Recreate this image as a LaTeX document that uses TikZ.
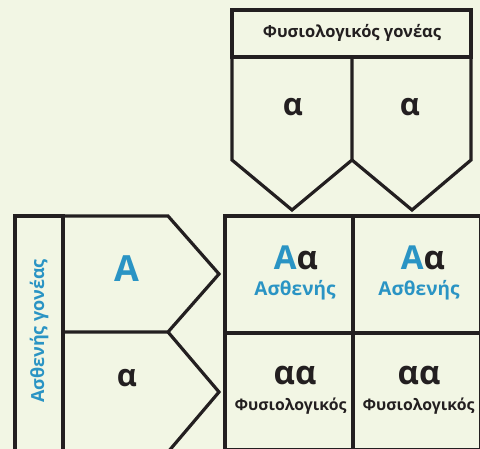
\documentclass[tikz,border=0pt]{standalone}
\usepackage{fontspec}
\setmainfont{Open Sans}
\begin{document}
\begin{tikzpicture}[
  x=1pt,y=-1pt,
  font=\bfseries,
  frame/.style={draw=linec,line width=3.2pt,line join=miter},
  big/.style={font=\bfseries\fontsize{#1}{30}\selectfont,text=linec},
  big/.default=33,
  head/.style={font=\bfseries\fontsize{16.5}{17}\selectfont,text=linec},
  pheno/.style={font=\bfseries\fontsize{#1}{16}\selectfont,inner sep=0pt}]

  \definecolor{bgc}{RGB}{242,246,228}
  \definecolor{linec}{RGB}{35,31,32}
  \definecolor{bluec}{RGB}{42,148,196}

  % ---- background ----
  \fill[bgc] (0,0) rectangle (480,449);
  \clip (0,0) rectangle (480,449);

  % ---- healthy parent (top) ----
  \draw[frame] (232,10) rectangle (471,57);
  \draw[frame] (232,57) -- (232,160) -- (292,210) -- (352,160) -- (352,57);
  \draw[frame] (352,160) -- (412,210) -- (471,160) -- (471,57);
  \node[head] (hlab) at (352,33) {Φυσιολογικός γονέας};
  \node[big=31] (h1) at (293,107) {α};
  \node[big=31] (h2) at (410,107) {α};

  % ---- sick parent (left) ----
  \draw[frame] (15,216) rectangle (63,460);
  \draw[frame] (63,216) -- (168,216) -- (219,274) -- (168,332) -- (63,332);
  \draw[frame] (168,332) -- (219,392) -- (168,452) -- (63,452);
  \draw[frame] (63,216) -- (63,460);
  \node[pheno=18,text=bluec,rotate=90] (slab) at (39,331) {Ασθενής γονέας};
  \node[big=36,text=bluec] (s1) at (127,269) {A};
  \node[big=31] (s2) at (127,378) {α};

  % ---- punnett grid ----
  \draw[frame] (225,216) rectangle (481,450);
  \draw[frame] (225,333) -- (481,333);
  \draw[frame] (353,216) -- (353,460);

  \node[big] (c11) at (296,258) {\textcolor{bluec}{A}α};
  \node[pheno=19,text=bluec] (p11) at (295,290) {Ασθενής};
  \node[big] (c12) at (423,258) {\textcolor{bluec}{A}α};
  \node[pheno=19,text=bluec] (p12) at (419,290) {Ασθενής};
  \node[big] (c21) at (295,376) {αα};
  \node[pheno=15.8,text=linec] (p21) at (290.5,406) {Φυσιολογικός};
  \node[big] (c22) at (419,376) {αα};
  \node[pheno=15.8,text=linec] (p22) at (418.5,406) {Φυσιολογικός};
\end{tikzpicture}
\end{document}
